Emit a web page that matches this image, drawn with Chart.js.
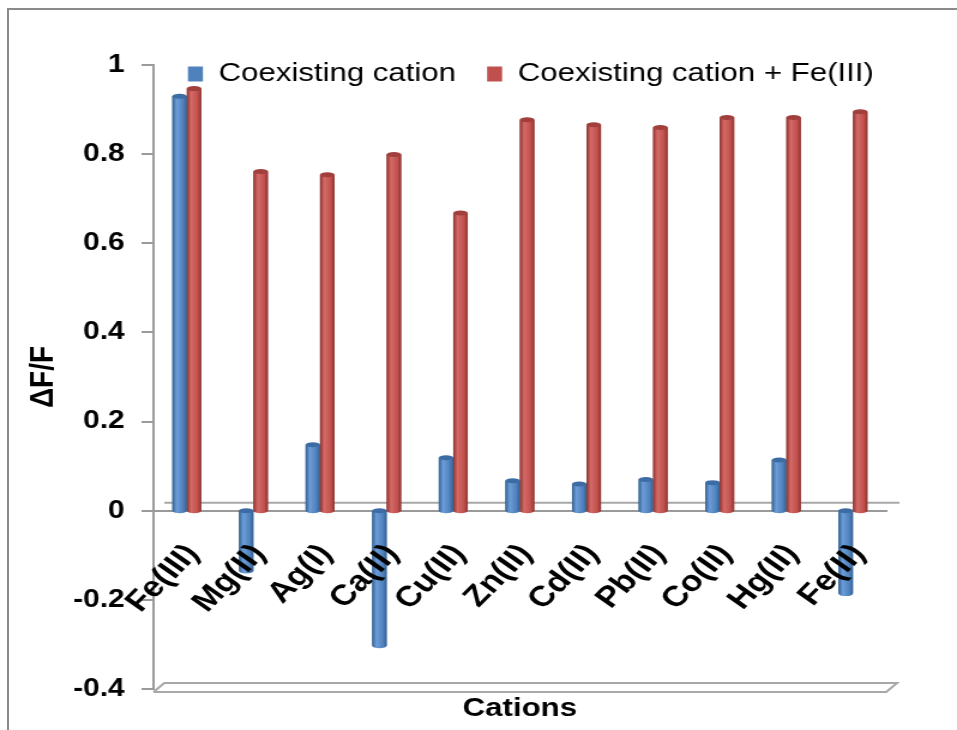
<!DOCTYPE html>
<html>
<head>
<meta charset="utf-8">
<script src="https://cdn.jsdelivr.net/npm/chart.js@4.4.1/dist/chart.umd.min.js"></script>
<style>
  html, body { margin: 0; padding: 0; background: #fff; overflow: hidden; }
  #frame { position: absolute; left: 7px; top: 8px; width: 1000px; height: 1000px; border: 2px solid #8a8a8a; }
</style>
</head>
<body>
<div id="frame"></div>
<canvas id="c" width="798" height="730" style="position:absolute;left:0;top:0;width:957px;height:730px"></canvas>
<script>
// Fluorescence response (ΔF/F) for each coexisting cation, alone and with Fe(III) added
const cations = ['Fe(III)', 'Mg(II)', 'Ag(I)', 'Ca(II)', 'Cu(II)', 'Zn(II)', 'Cd(II)', 'Pb(II)', 'Co(II)', 'Hg(II)', 'Fe(II)'];
const cationOnly = [0.93, -0.135, 0.148, -0.303, 0.119, 0.067, 0.06, 0.07, 0.063, 0.114, -0.186];
const cationPlusFe3 = [0.947, 0.761, 0.754, 0.799, 0.668, 0.877, 0.866, 0.86, 0.882, 0.882, 0.895];
const seriesNames = ['Coexisting cation', 'Coexisting cation + Fe(III)'];
const yTicks = { min: -0.4, max: 1, step: 0.2 };

Chart.defaults.font.family = '"Liberation Sans", Arial, sans-serif';
Chart.defaults.color = '#000';

// shading tones for the cylinder look of each series
const tones = [
  { base: '#4F81BD', edge: '#33608f', light: '#6c9dd9', cap: '#3d6ca5' },
  { base: '#C0504D', edge: '#8a3330', light: '#d56a67', cap: '#a13f3c' }
];

const cylinderShade = {
  id: 'cylinderShade',
  afterDatasetsDraw(chart) {
    const ctx = chart.ctx;
    chart.data.datasets.forEach((ds, i) => {
      const meta = chart.getDatasetMeta(i);
      const t = tones[i];
      meta.data.forEach(bar => {
        const { x, y, base, width } = bar.getProps(['x', 'y', 'base', 'width'], true);
        const left = x - width / 2;
        const top = Math.min(y, base);
        const h = Math.abs(base - y);
        const g = ctx.createLinearGradient(left, 0, left + width, 0);
        g.addColorStop(0, t.edge);
        g.addColorStop(0.3, t.light);
        g.addColorStop(0.75, t.base);
        g.addColorStop(1, t.edge);
        ctx.save();
        ctx.fillStyle = g;
        ctx.beginPath();
        ctx.rect(left, top, width, h);
        ctx.ellipse(x, top + h, width / 2, 2.5, 0, 0, Math.PI);
        ctx.fill();
        ctx.beginPath();
        ctx.ellipse(x, top, width / 2, 2.5, 0, 0, Math.PI * 2);
        ctx.fillStyle = t.cap;
        ctx.fill();
        ctx.restore();
      });
    });
  }
};

// back edge of the zero plane and the floor slab at the bottom of the plot
const floorLines = {
  id: 'floorLines',
  beforeDatasetsDraw(chart) {
    const { ctx, chartArea: a, scales: { y } } = chart;
    const z = y.getPixelForValue(0);
    const b = y.getPixelForValue(yTicks.min);
    ctx.save();
    ctx.strokeStyle = '#a8a8a8';
    ctx.lineWidth = 2;
    ctx.beginPath();
    ctx.moveTo(a.left + 9, z - 8);
    ctx.lineTo(a.right + 11, z - 8);
    ctx.moveTo(a.left, b + 3);
    ctx.lineTo(a.right, b + 3);
    ctx.lineTo(a.right + 9, b - 6);
    ctx.lineTo(a.left + 9, b - 6);
    ctx.lineTo(a.left, b + 3);
    ctx.stroke();
    ctx.restore();
  }
};

// move the legend row down over the top of the plot, starting just right of the axis
const legendPlacement = {
  id: 'legendPlacement',
  afterLayout(chart) {
    const lg = chart.legend;
    const pad = lg.options.labels.padding;
    lg.top = 74 - pad - 13;
    lg.bottom = lg.top + lg.height;
    const x0 = (lg.left + pad + lg.right - lg.lineWidths[0]) / 2;
    const d = chart.chartArea.left + 28.7 - x0;
    lg.left += d;
    lg.right += d;
  }
};

const axisGray = '#9a9a9a';

new Chart(document.getElementById('c'), {
  type: 'bar',
  data: {
    labels: cations,
    datasets: [
      { label: seriesNames[0], data: cationOnly, backgroundColor: tones[0].base, borderColor: tones[0].base, borderWidth: 0 },
      { label: seriesNames[1], data: cationPlusFe3, backgroundColor: tones[1].base, borderColor: tones[1].base, borderWidth: 0 }
    ]
  },
  options: {
    responsive: false,
    animation: false,
    devicePixelRatio: 1,
    layout: { padding: { left: 0, right: 59, top: 3, bottom: 0 } },
    datasets: { bar: { categoryPercentage: 0.435, barPercentage: 1 } },
    plugins: {
      legend: {
        position: 'top',
        align: 'center',
        labels: { boxWidth: 12.5, boxHeight: 15, padding: 26, font: { size: 26 }, color: '#000' }
      },
      tooltip: { enabled: false }
    },
    scales: {
      x: {
        type: 'category',
        position: { y: 0 },
        grid: { display: false, drawTicks: false },
        border: { display: true, color: axisGray, width: 2 },
        ticks: { z: 1, autoSkip: false, maxRotation: 50, minRotation: 50, padding: 27, labelOffset: 5, font: { size: 29, weight: 'bold' }, color: '#000' },
        afterFit(s) { s.paddingLeft = 0; s.paddingRight = 0; s.paddingTop = 0; s.paddingBottom = 0; }
      },
      x2: {
        type: 'category',
        position: 'bottom',
        grid: { display: false, drawTicks: false },
        border: { display: false },
        ticks: { display: false },
        title: { display: true, text: 'Cations', font: { size: 26, weight: 'bold' }, color: '#000', padding: { top: 0, bottom: 6 } },
        afterFit(s) { s.height = 41; s.paddingLeft = 0; s.paddingRight = 0; }
      },
      y: {
        min: yTicks.min,
        max: yTicks.max,
        ticks: {
          stepSize: yTicks.step,
          padding: 14,
          font: { size: 25, weight: 'bold' },
          color: '#000',
          callback: v => String(Math.round(v * 10) / 10)
        },
        grid: { drawOnChartArea: false, drawTicks: true, tickLength: 10, color: axisGray, lineWidth: 2 },
        border: { display: true, color: axisGray, width: 2 },
        title: { display: true, text: 'ΔF/F', font: { size: 28, weight: 'bold' }, color: '#000', padding: { top: 19, bottom: 0 } },
        afterFit(s) { s.width = 128; }
      }
    }
  },
  plugins: [floorLines, cylinderShade, legendPlacement]
});
</script>
</body>
</html>
